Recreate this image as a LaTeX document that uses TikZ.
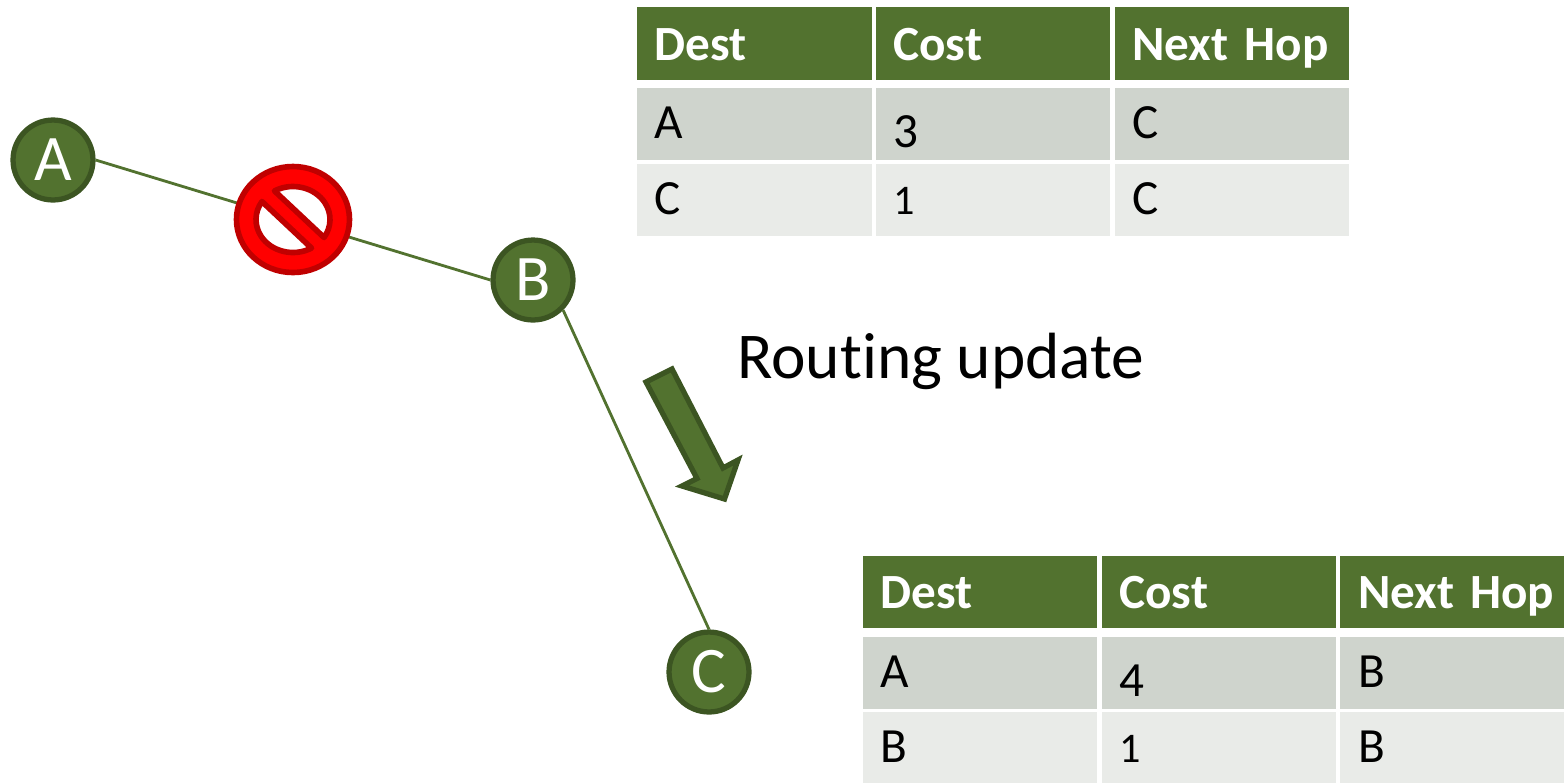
\documentclass[tikz,border=0pt]{standalone}
\usepackage{fontspec}
\setmainfont[Ligatures=NoCommon]{Carlito}
\definecolor{nodegreen}{HTML}{52722F}
\definecolor{nodeborder}{HTML}{3C5522}
\definecolor{rowdark}{HTML}{CFD4CD}
\definecolor{rowlight}{HTML}{E9EBE8}
\definecolor{stopred}{HTML}{FF0000}
\definecolor{stopborder}{HTML}{C00000}
\newcommand{\lowdigit}[1]{\raisebox{-5pt}{#1}}
\newcommand{\smalldigit}[1]{{\fontsize{24}{24}\selectfont #1}}
\tikzset{
	router/.style={circle, draw=nodeborder, fill=nodegreen, line width=3pt, text=white,
		minimum size=45.5pt, inner sep=0pt, font=\fontsize{37}{37}\selectfont},
	cell/.style={inner xsep=10.2pt, inner ysep=0pt, text width=113.3pt, align=left,
		minimum height=41pt, text height=21pt, text depth=4pt, font=\fontsize{28}{28}\selectfont},
	headcell/.style={cell, fill=nodegreen, text=white, text height=22pt, text depth=3.2pt,
		font=\fontsize{28}{28}\selectfont\bfseries},
	darkcell/.style={cell, fill=rowdark},
	lightcell/.style={cell, fill=rowlight},
	stopline/.style={draw=stopborder, line width=3.2pt, line join=round},
	link/.style={color=nodegreen, line width=1.6pt}
}

\begin{document}
\begin{tikzpicture}[x = .02cm, y = -.02cm]
	\useasboundingbox (0,0) rectangle (1564,782);

% routers and links
	\node[router] (a) at (53,160) {A};
	\node[router] (b) at (533,280) {B};
	\node[router] (c) at (709,672) {C};
	\draw[link] (a.east) -- (b.west);
	\draw[link] (b.south east) -- (c.north);

% stop sign on the broken link
	\coordinate (stop) at (293,219.5);
	\draw[stopline, fill=stopred] (stop) ellipse [x radius=56.5, y radius=53];
	\draw[stopline, fill=white]
		(stop) ++(-120:37 and 33) arc[start angle=-120, end angle=33, x radius=37, y radius=33] -- cycle;
	\draw[stopline, fill=white]
		(stop) ++(60:37 and 33) arc[start angle=60, end angle=213, x radius=37, y radius=33] -- cycle;

% update arrow
	\draw[fill=nodegreen, draw=nodeborder, line width=3pt, line join=miter]
		(646,382) -- (672,369) -- (723,468) -- (738,460) -- (724.5,499) -- (682,486) -- (697,478.5) -- cycle;
	\node[anchor=west, inner sep=0pt, font=\fontsize{37.2}{37.2}\selectfont] (update) at (737,361) {Routing update};

% table at B
	\node[headcell] (bdest) at (754.5,43.5) {Dest};
	\node[headcell] (bcost) at (993,43.5) {Cost};
	\node[headcell] (bhop) at (1232,43.5) {Next Hop};
	\node[darkcell] (bdesta) at (754.5,124) {A};
	\node[darkcell] (bcosta) at (993,124) {\lowdigit{3}};
	\node[darkcell] (bhopa) at (1232,124) {C};
	\node[lightcell] (bdestc) at (754.5,200) {C};
	\node[lightcell] (bcostc) at (993,200) {\smalldigit{1}};
	\node[lightcell] (bhopc) at (1232,200) {C};

% table at C
	\node[headcell] (cdest) at (980,592) {Dest};
	\node[headcell] (ccost) at (1219,592) {Cost};
	\node[headcell, text width=107pt] (chop) at (1452,592) {\mbox{Next Hop}};
	\node[darkcell] (cdesta) at (980,673) {A};
	\node[darkcell] (ccosta) at (1219,673) {\lowdigit{4}};
	\node[darkcell, text width=107pt] (chopa) at (1452,673) {B};
	\node[lightcell] (cdestb) at (980,748) {B};
	\node[lightcell] (ccostb) at (1219,748) {\smalldigit{1}};
	\node[lightcell, text width=107pt] (chopb) at (1452,748) {B};
\end{tikzpicture}
\end{document}
